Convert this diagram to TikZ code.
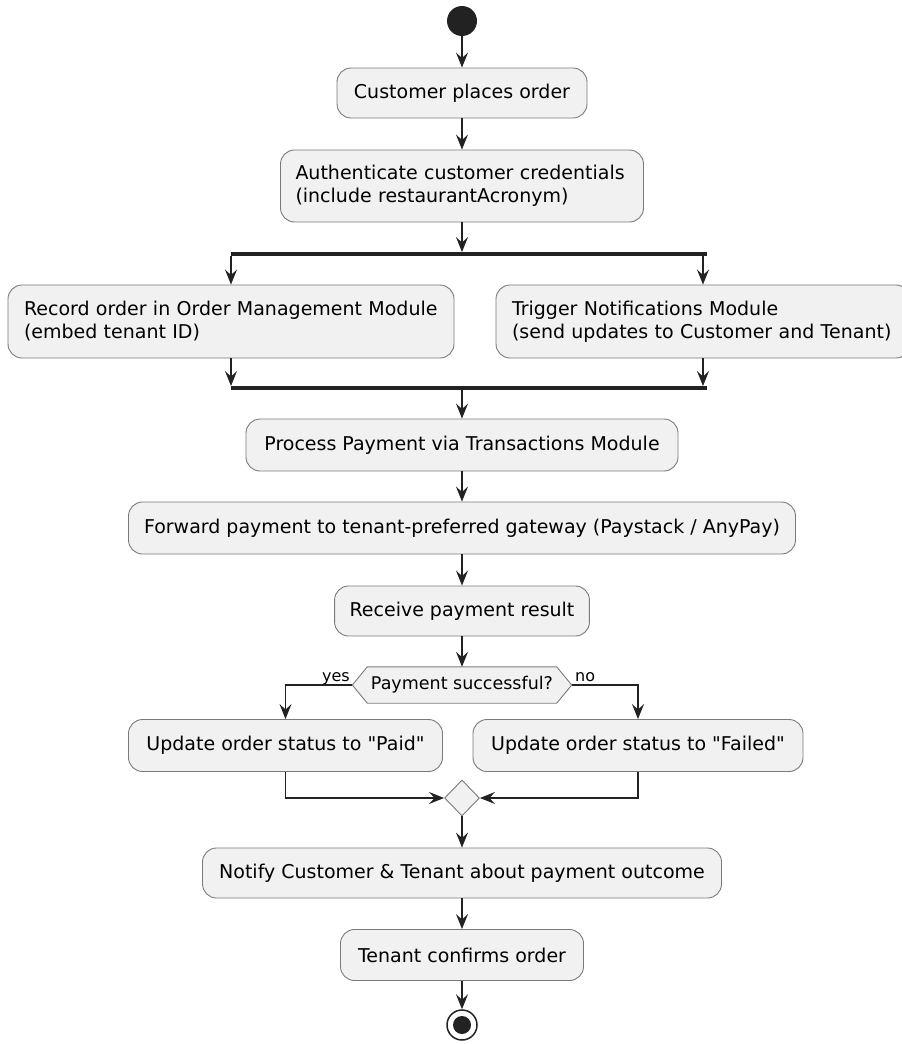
\documentclass[tikz,border=0pt]{standalone}
\usepackage{fontspec}
\setmainfont{DejaVu Sans}[Ligatures=TeXOff]
\usetikzlibrary{arrows.meta,shapes.geometric,backgrounds}
\definecolor{actfill}{HTML}{F1F1F1}
\definecolor{actline}{HTML}{7A7A7A}
\definecolor{ink}{HTML}{222222}
\begin{document}
\begin{tikzpicture}[x=1pt,y=-1pt,
  font=\fontsize{19}{23}\selectfont,
  act/.style={draw=actline,fill=actfill,line width=0.9pt,rounded corners=14pt,
    minimum height=50pt,inner xsep=15pt,inner ysep=0pt,align=center},
  acttwo/.style={act,align=left,minimum height=#1},
  flow/.style={draw=ink,line width=1.3pt,-{Stealth[length=15pt,width=12pt,inset=5.5pt]}},
  bar/.style={fill=ink,inner sep=0pt,minimum height=3.5pt,minimum width=476pt},
  lbl/.style={font=\fontsize{16}{18}\selectfont,inner sep=0pt},
  startdot/.style={circle,fill=ink,minimum size=30pt,inner sep=0pt},
]
\useasboundingbox (0,0) rectangle (902,1044);

% start
\node[startdot] (start) at (462,21) {};

% activities
\node[act,minimum width=250pt] (b1) at (462,93) {Customer places order};
\node[acttwo=72pt,text width=333pt] (b2) at (462,186)
  {Authenticate customer credentials\\(include restaurantAcronym)};

\node[bar] (fork) at (468.5,254) {};
\node[acttwo=73pt,text width=414pt,inner xsep=16pt] (b3) at (231,321.5)
  {Record order in Order Management Module\\(embed tenant ID)};
\node[acttwo=73pt,text width=382pt,inner xsep=16pt] (b4) at (703,321.5)
  {Trigger Notifications Module\\(send updates to Customer and Tenant)};
\node[bar] (join) at (468.5,388) {};

\node[act,minimum width=432pt,minimum height=52pt] (b5) at (462,445) {Process Payment via Transactions Module};
\node[act,minimum width=667pt,minimum height=52pt] (b6) at (462,528) {Forward payment to tenant-preferred gateway (Paystack / AnyPay)};
\node[act,minimum width=253pt] (b7) at (462,611) {Receive payment result};

% decision
\node[minimum width=219pt,minimum height=36pt,inner sep=0pt,
  font=\fontsize{17.5}{20}\selectfont] (dec) at (462,685) {Payment successful?};
\begin{pgfonlayer}{background}
  \filldraw[draw=actline,fill=actfill,line width=0.9pt]
    (dec.west) -- ([xshift=15pt]dec.north west) -- ([xshift=-15pt]dec.north east)
    -- (dec.east) -- ([xshift=-15pt]dec.south east) -- ([xshift=15pt]dec.south west) -- cycle;
\end{pgfonlayer}
\node[lbl,anchor=base east] (yes) at (350,681) {yes};
\node[lbl,anchor=base west] (no) at (575,681) {no};

\node[act,minimum width=314pt,minimum height=52pt] (b8) at (285.5,745.5) {Update order status to "Paid"};
\node[act,minimum width=330pt,minimum height=52pt] (b9) at (638,745.5) {Update order status to "Failed"};

% merge
\node[diamond,draw=actline,fill=actfill,line width=0.9pt,minimum width=35pt,
  minimum height=36pt,inner sep=0pt] (merge) at (462,798) {};

\node[act,minimum width=519pt] (b10) at (462,873) {Notify Customer \& Tenant about payment outcome};
\node[act,minimum width=243pt,minimum height=51pt] (b11) at (462,955) {Tenant confirms order};

% stop
\node[circle,draw=ink,line width=1.5pt,fill=white,minimum size=30pt,inner sep=0pt] (stop) at (462,1025) {};
\node[circle,fill=ink,minimum size=18pt,inner sep=0pt] (stopdot) at (stop) {};

% connectors
\draw[flow] (start) -- (b1);
\draw[flow] (b1) -- (b2);
\draw[flow] (b2.south) -- (b2.south |- fork.north);
\draw[flow] (fork.south -| b3.north) -- (b3.north);
\draw[flow] (fork.south -| b4.north) -- (b4.north);
\draw[flow] (b3.south) -- (b3.south |- join.north);
\draw[flow] (b4.south) -- (b4.south |- join.north);
\draw[flow] (join.south -| b5.north) -- (b5.north);
\draw[flow] (b5) -- (b6);
\draw[flow] (b6) -- (b7);
\draw[flow] (b7) -- (dec);
\draw[flow] (dec.west) -| (b8.north);
\draw[flow] (dec.east) -| (b9.north);
\draw[flow] (b8.south) |- (merge.west);
\draw[flow] (b9.south) |- (merge.east);
\draw[flow] (merge) -- (b10);
\draw[flow] (b10) -- (b11);
\draw[flow] (b11) -- (stop);
\end{tikzpicture}
\end{document}
